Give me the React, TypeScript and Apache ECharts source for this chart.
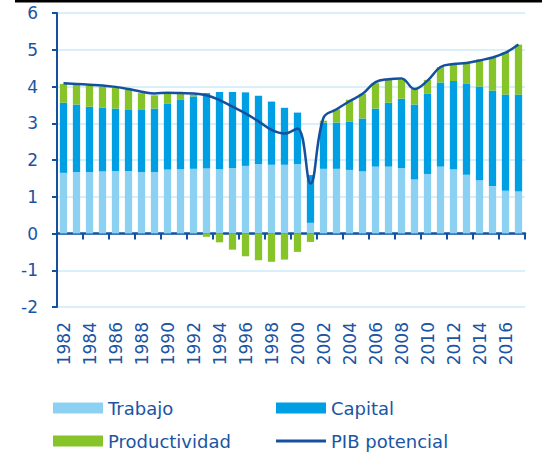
import React, { useEffect, useRef } from "react";
import * as echarts from "echarts";

const years = [
  "1982","1983","1984","1985","1986","1987","1988","1989","1990","1991","1992","1993",
  "1994","1995","1996","1997","1998","1999","2000","2001","2002","2003","2004","2005",
  "2006","2007","2008","2009","2010","2011","2012","2013","2014","2015","2016","2017",
];
const trabajo = [
  1.65,1.67,1.67,1.69,1.70,1.70,1.67,1.67,1.74,1.75,1.76,1.77,
  1.75,1.78,1.84,1.89,1.87,1.87,1.89,0.29,1.76,1.76,1.73,1.69,
  1.82,1.82,1.78,1.47,1.62,1.82,1.75,1.60,1.45,1.29,1.16,1.14,
];
const capital = [
  1.91,1.84,1.78,1.74,1.70,1.66,1.69,1.73,1.80,1.90,1.97,2.05,
  2.10,2.07,2.00,1.86,1.72,1.55,1.40,1.30,1.26,1.26,1.32,1.44,
  1.58,1.74,1.89,2.04,2.18,2.29,2.40,2.47,2.55,2.60,2.62,2.64,
];
const productividad = [
  0.51,0.53,0.57,0.57,0.57,0.55,0.46,0.36,0.28,0.17,0.05,-0.09,
  -0.24,-0.44,-0.62,-0.73,-0.77,-0.71,-0.50,-0.23,0.05,0.36,0.59,0.67,
  0.69,0.62,0.51,0.42,0.38,0.42,0.46,0.58,0.73,0.91,1.15,1.36,
];
const pibPotencial = [
  4.09,4.07,4.05,4.03,3.99,3.93,3.86,3.81,3.83,3.82,3.81,3.76,
  3.63,3.45,3.27,3.05,2.82,2.72,2.86,1.36,3.15,3.38,3.60,3.80,
  4.12,4.20,4.22,3.93,4.16,4.53,4.61,4.64,4.71,4.79,4.92,5.14,
];

const TEXT = "#1a55a3";
const FONT = "DejaVu Sans";

export default function App() {
  const ref = useRef<HTMLDivElement>(null);
  useEffect(() => {
    document.body.style.margin = "0";
    document.body.style.overflow = "hidden";
    if (!ref.current) return;
    const chart = echarts.init(ref.current, null, { renderer: "svg" });
    const legendBase = {
      orient: "horizontal",
      padding: 0,
      itemWidth: 50,
      itemHeight: 11,
      itemGap: 5,
      textStyle: { color: TEXT, fontSize: 18, fontFamily: FONT },
      selectedMode: false,
    };
    chart.setOption({
      animation: false,
      backgroundColor: "#ffffff",
      graphic: [
        {
          type: "rect",
          left: 15,
          top: 0,
          z: 100,
          shape: { width: 527, height: 2.5 },
          style: { fill: "#000000" },
        },
      ],
      grid: { left: 57, right: 17, top: 13, bottom: 147, containLabel: false },
      legend: [
        { ...legendBase, left: 53, top: 399, data: [{ name: "Trabajo", icon: "rect" }] },
        { ...legendBase, left: 276, top: 399, data: [{ name: "Capital", icon: "rect" }] },
        { ...legendBase, left: 53, top: 432, data: [{ name: "Productividad", icon: "rect" }] },
        { ...legendBase, left: 276, top: 432, itemHeight: 3, data: [{ name: "PIB potencial", icon: "rect" }] },
      ],
      xAxis: [
        {
          type: "category",
          data: years,
          axisLine: { show: true, onZero: true, lineStyle: { color: "#1450a0", width: 2.5 } },
          axisTick: { show: true, interval: 1, length: 6, lineStyle: { color: "#1450a0", width: 2 } },
          axisLabel: { show: false },
          splitLine: { show: false },
        },
        {
          type: "category",
          data: years,
          position: "bottom",
          axisLine: { show: false, onZero: false },
          axisTick: { show: false },
          axisLabel: {
            show: true,
            interval: 1,
            rotate: 90,
            margin: 15,
            color: TEXT,
            fontSize: 17,
            fontFamily: FONT,
          },
        },
      ],
      yAxis: {
        type: "value",
        min: -2,
        max: 6,
        interval: 1,
        axisLine: { show: true, lineStyle: { color: "#1450a0", width: 2 } },
        axisTick: { show: true, length: 5, lineStyle: { color: "#1450a0", width: 2 } },
        axisLabel: { color: TEXT, fontSize: 17, fontFamily: FONT, margin: 19 },
        splitLine: { show: true, lineStyle: { color: "#cdeaf7", width: 1.5 } },
      },
      series: [
        {
          name: "Trabajo",
          type: "bar",
          stack: "total",
          barWidth: "56%",
          data: trabajo,
          itemStyle: { color: "#8dd1f2" },
        },
        {
          name: "Capital",
          type: "bar",
          stack: "total",
          barWidth: "56%",
          data: capital,
          itemStyle: { color: "#009fe3" },
        },
        {
          name: "Productividad",
          type: "bar",
          stack: "total",
          barWidth: "56%",
          data: productividad,
          itemStyle: { color: "#86c42a" },
        },
        {
          name: "PIB potencial",
          type: "line",
          data: pibPotencial,
          smooth: 0.4,
          symbol: "none",
          showSymbol: false,
          lineStyle: { color: "#1450a0", width: 2.5 },
          itemStyle: { color: "#1450a0" },
          z: 5,
        },
      ],
    });
    return () => chart.dispose();
  }, []);
  return <div ref={ref} style={{ width: 542, height: 454 }} />;
}
